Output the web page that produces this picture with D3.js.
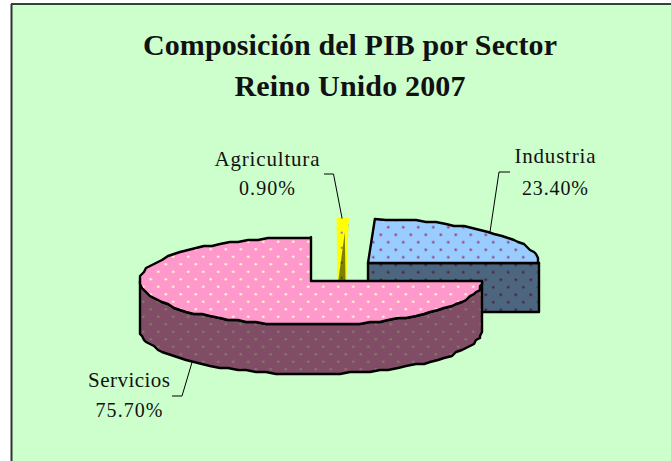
<!DOCTYPE html>
<html>
<head>
<meta charset="utf-8">
<script src="https://cdn.jsdelivr.net/npm/d3@7"></script>
<style>
  html, body { margin: 0; padding: 0; background: #fff; overflow: hidden; }
  svg { display: block; }
  text { font-family: "Liberation Serif", serif; fill: #111; }
</style>
</head>
<body>
<div id="chart"></div>
<script>
let sectors = ['Agricultura', 'Industria', 'Servicios']
let shares = [0.9, 23.4, 75.7]
let shareLabels = ['0.90%', '23.40%', '75.70%']
let topColors = ['#ffff00', '#99ccff', '#ff99cc']
let wallColors = ['#808000', '#4c6680', '#804c66']
let dotColors = ['#969696', '#993366', '#ffffcc']
let wallDotColors = ['#4b4b4b', '#4c1933', '#808066']

let width = 671
let height = 461
let rx = 171
let ry = 44
let depth = 49
let rad = Math.PI / 180

let svg = d3.select('#chart').append('svg')
  .attr('width', width)
  .attr('height', height)

let defs = svg.append('defs')

let addDots = (id, bg, dot, dx, dy) => {
  let p = defs.append('pattern')
    .attr('id', id)
    .attr('patternUnits', 'userSpaceOnUse')
    .attr('width', 15)
    .attr('height', 15)
    .attr('patternTransform', `translate(${dx},${dy})`)
  p.append('rect').attr('width', 15).attr('height', 15).attr('fill', bg)
  p.append('circle').attr('cx', 3.75).attr('cy', 3.75).attr('r', 1.2).attr('fill', dot)
  p.append('circle').attr('cx', 11.25).attr('cy', 11.25).attr('r', 1.2).attr('fill', dot)
}
sectors.forEach((s, i) => {
  let phase = i === 1 ? [9.5, 13.5] : i === 2 ? [4.5, 13] : [8, 4]
  addDots('top' + i, topColors[i], dotColors[i], phase[0], phase[1])
  addDots('wall' + i, wallColors[i], wallDotColors[i], phase[0], phase[1])
})

// background frame, only top and left edges show in the picture
svg.append('rect').attr('x', 11).attr('y', 4).attr('width', width).attr('height', height).attr('fill', '#ccffcc')
svg.append('line').attr('x1', 11).attr('x2', width).attr('y1', 4).attr('y2', 4).attr('stroke', '#000').attr('stroke-width', 1.5)
svg.append('line').attr('x1', 11.5).attr('x2', 11.5).attr('y1', 4).attr('y2', height).attr('stroke', '#333').attr('stroke-width', 2)

// true slice angles, then bent the way the 3d perspective draws them
let slices = d3.pie().sort(null).value(d => d)
  .startAngle(2.52 * rad)
  .endAngle((2.52 + 360) * rad)(shares)

let warp = d3.scaleLinear()
  .domain([2.52, 5.76, 90, 362.52])
  .range([-1.8, 2.3, 90, 360])

let angles = slices.map(s => [warp(s.startAngle / rad), warp(s.endAngle / rad)])

// exploded slices each have their own centre
let centres = [[342, 262], [368, 263], [311, 281]]

let pt = (i, deg, r, z) => [
  centres[i][0] + r * rx * Math.sin(deg * rad),
  centres[i][1] - r * ry * Math.cos(deg * rad) + z * depth
]

// the original rim is stepped, low res polygon rounded to a coarse grid
let grid = 2
let snap = p => [Math.round(p[0] / grid) * grid, Math.round(p[1] / grid) * grid]

let rim = (i, from, to, z) => {
  let list = d3.range(from, to, 3.5).slice(1).map(a => snap(pt(i, a, 1, z)))
  return [pt(i, from, 1, z)].concat(list, [pt(i, to, 1, z)])
}

let line = d3.line()
let outline = { stroke: '#000', 'stroke-width': 2.4, 'stroke-linejoin': 'round' }
let draw = (points, fill, styled) => {
  let p = svg.append('path').attr('d', line(points) + 'Z').attr('fill', fill)
  if (styled) Object.keys(outline).forEach(k => p.attr(k, outline[k]))
  return p
}

// Agricultura: thin sliver, no outline in the picture
let a0 = angles[0][0], a1 = angles[0][1]
draw([pt(0, a0, 1, 0), pt(0, a1, 1, 0), pt(0, a1, 0.55, 1.2), pt(0, a0, 0.85, 1.2)], 'url(#top0)', false)
draw([pt(0, a1 * 0.6, 0.68, 0), pt(0, a1, 0.55, 1.2), pt(0, a0, 0.8, 1.2)], 'url(#wall0)', false)

// Industria
let b0 = angles[1][0], b1 = angles[1][1]
draw([pt(1, b1, 1, 0), pt(1, b1, 1, 1), [centres[1][0], centres[1][1] + depth], centres[1]], 'url(#wall1)', true)
draw(rim(1, b0, b1, 0).concat([centres[1]]), 'url(#top1)', true)

// Servicios
let c0 = angles[2][0], c1 = angles[2][1]
draw(rim(2, c0, 270, 0).concat(rim(2, c0, 270, 1).reverse()), 'url(#wall2)', true)
draw(rim(2, c0, c1, 0).concat([centres[2]]), 'url(#top2)', true)

// leader lines
let leaders = [
  [[324, 174], [333.5, 174], pt(0, 0, 1, 0)],
  [[510, 172], [499, 172], pt(1, 45.5, 1, 0)],
  [[172, 396], [182, 396], pt(2, 224, 1, 1)]
]
leaders.forEach(l => {
  svg.append('path').attr('d', line(l)).attr('fill', 'none').attr('stroke', '#000').attr('stroke-width', 1)
})

// labels
let labelPos = [[267, 166, 195], [555, 163, 195], [129, 387, 417]]
let labelWidth = [105, 81, 82]
let shareWidth = [56, 66, 67]
sectors.forEach((s, i) => {
  svg.append('text').attr('x', labelPos[i][0]).attr('y', labelPos[i][1])
    .attr('text-anchor', 'middle').attr('font-size', 21)
    .attr('textLength', labelWidth[i]).attr('lengthAdjust', 'spacing').text(s)
  svg.append('text').attr('x', labelPos[i][0]).attr('y', labelPos[i][2])
    .attr('text-anchor', 'middle').attr('font-size', 20)
    .attr('textLength', shareWidth[i]).attr('lengthAdjust', 'spacing').text(shareLabels[i])
})

let titleLines = ['Composición del PIB por Sector', 'Reino Unido 2007']
let titleY = [55, 96]
let titleWidth = [414, 231]
titleLines.forEach((t, i) => {
  svg.append('text').attr('x', 350).attr('y', titleY[i])
    .attr('text-anchor', 'middle').attr('font-size', 30).attr('font-weight', 'bold')
    .attr('textLength', titleWidth[i]).attr('lengthAdjust', 'spacing').text(t)
})
</script>
</body>
</html>
